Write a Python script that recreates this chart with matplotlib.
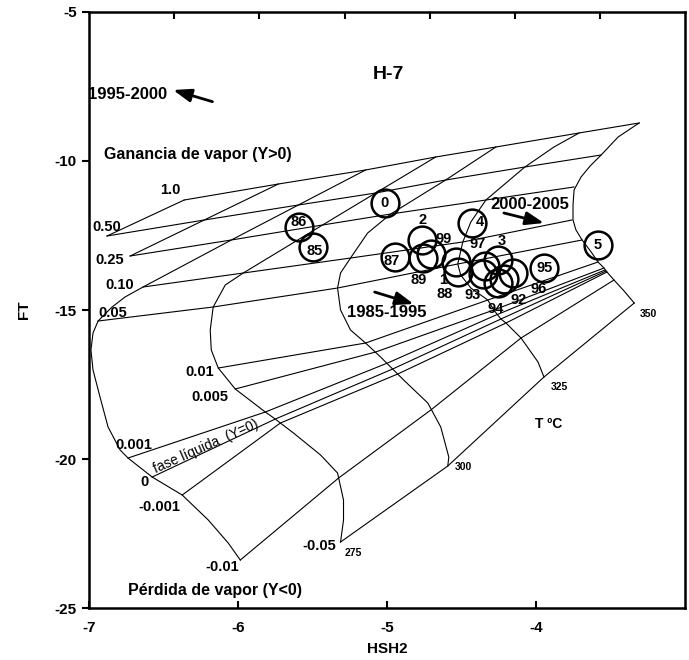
import numpy as np
import matplotlib
matplotlib.use("Agg")
import matplotlib.pyplot as plt

plt.rcParams['font.family'] = ['Liberation Sans', 'DejaVu Sans']
plt.rcParams['font.weight'] = 'bold'

# ---------------- data ----------------
T_values = [200, 225, 250, 275, 300, 325, 350]
Y_values = [1.0, 0.5, 0.25, 0.10, 0.05, 0.01, 0.005, 0.001, 0.0, -0.001, -0.01, -0.05]
Y_text = ["1.0", "0.50", "0.25", "0.10", "0.05", "0.01", "0.005", "0.001", "0", "-0.001", "-0.01", "-0.05"]
nan = np.nan
# grid nodes (HSH2, FT) of each Y line, one value per temperature in T_values
node_hsh = {
    1.0:    [-6.363, -5.730, -5.145, -4.674, -4.270, -3.711, -3.308],
    0.5:    [-6.881, -6.228, -5.596, -5.077, -4.607, -4.075, -3.563],
    0.25:   [nan, -6.726, -6.046, -5.434, -4.976, -4.337, -3.745],
    0.10:   [nan, nan, -6.639, -5.966, -5.246, -4.492, -3.759],
    0.05:   [nan, nan, -6.941, -6.168, -5.333, -4.526, -3.691],
    0.01:   [nan, nan, nan, -6.134, -5.145, -4.324, -3.584],
    0.005:  [nan, nan, nan, -6.020, -5.077, -4.284, -3.544],
    0.001:  [nan, nan, -6.740, -5.818, -4.997, -4.284, -3.537],
    0.0:    [nan, nan, -6.578, -5.751, -4.963, -4.236, -3.530],
    -0.001: [nan, nan, -6.376, -5.717, -4.929, -4.202, -3.524],
    -0.01:  [nan, nan, -5.986, -5.326, -4.707, -4.101, -3.477],
    -0.05:  [nan, nan, nan, -5.313, -4.593, -3.947, -3.341],
}
node_ft = {
    1.0:    [-11.313, -10.776, -10.307, -9.871, -9.536, -9.066, -8.731],
    0.5:    [-12.519, -11.983, -11.480, -11.078, -10.642, -10.206, -9.804],
    0.25:   [nan, -13.190, -12.653, -12.151, -11.782, -11.313, -10.876],
    0.10:   [nan, nan, -14.229, -13.760, -13.258, -12.720, -11.983],
    0.05:   [nan, nan, -15.369, -14.899, -14.263, -13.458, -12.653],
    0.01:   [nan, nan, nan, -16.945, -16.107, -14.665, -13.391],
    0.005:  [nan, nan, nan, -17.648, -16.408, -15.000, -13.592],
    0.001:  [nan, nan, -19.962, -18.420, -16.777, -15.201, -13.659],
    0.0:    [nan, nan, -20.599, -18.655, -16.978, -15.302, -13.693],
    -0.001: [nan, nan, -21.202, -18.789, -17.146, -15.436, -13.726],
    -0.01:  [nan, nan, -23.381, -20.632, -18.353, -15.939, -13.995],
    -0.05:  [nan, nan, nan, -22.778, -20.230, -17.246, -14.766],
}
# traced isotherm curves (HSH2, FT)
iso_hsh = {
    200: [-6.363, -6.881],
    225: [-5.730, -6.228, -6.726],
    250: [-5.145, -5.596, -6.046, -6.639, -6.760, -6.847, -6.941, -6.975, -6.989, -6.975,
          -6.928, -6.874, -6.793, -6.740, -6.578, -6.376, -6.201, -6.067, -5.986],
    275: [-4.674, -5.077, -5.434, -5.966, -6.087, -6.168, -6.188, -6.181, -6.134, -6.020,
          -5.818, -5.751, -5.717, -5.629, -5.447, -5.333, -5.293, -5.293, -5.313],
    300: [-4.270, -4.607, -4.976, -5.131, -5.246, -5.313, -5.333, -5.313, -5.246, -5.145,
          -5.044, -4.889, -4.727, -4.640, -4.586, -4.593],
    325: [-3.711, -3.880, -4.075, -4.337, -4.438, -4.492, -4.526, -4.506, -4.438, -4.324,
          -4.284, -4.236, -4.202, -4.101, -3.987, -3.947],
    350: [-3.308, -3.449, -3.563, -3.637, -3.698, -3.745, -3.752, -3.752, -3.732, -3.691,
          -3.630, -3.584, -3.544, -3.530, -3.477, -3.409, -3.341],
}
iso_ft = {
    200: [-11.313, -12.519],
    225: [-10.776, -11.983, -13.190],
    250: [-10.307, -11.480, -12.653, -14.229, -14.564, -14.899, -15.369, -15.771, -16.341, -17.011,
          -17.917, -18.922, -19.693, -19.962, -20.599, -21.202, -22.040, -22.811, -23.381],
    275: [-9.871, -11.078, -12.151, -13.760, -14.162, -14.899, -15.671, -16.341, -16.945, -17.648,
          -18.420, -18.655, -18.789, -19.123, -19.861, -20.465, -21.370, -22.040, -22.778],
    300: [-9.536, -10.642, -11.782, -12.419, -13.258, -13.760, -14.263, -15.000, -15.671, -16.107,
          -16.576, -17.347, -18.118, -18.922, -19.929, -20.230],
    325: [-9.066, -9.536, -10.206, -11.313, -12.050, -12.720, -13.458, -13.827, -14.263, -14.665,
          -15.000, -15.302, -15.436, -15.939, -16.744, -17.246],
    350: [-8.731, -9.200, -9.804, -10.173, -10.541, -10.977, -11.480, -11.983, -12.318, -12.653,
          -13.056, -13.391, -13.592, -13.693, -13.995, -14.363, -14.766],
}
T_label_text = ["275", "300", "325", "350"]

# sampled wells
well_labels = ["85", "86", "87", "0", "2", "99", "89", "1", "88", "97", "93", "3",
               "94", "92", "96", "4", "95", "5"]
well_hsh = [-5.497, -5.589, -4.950, -5.017, -4.768, -4.707, -4.761, -4.539, -4.526, -4.344,
            -4.357, -4.256, -4.256, -4.155, -4.216, -4.428, -3.945, -3.585]
well_ft = [-12.88, -12.21, -13.22, -11.42, -12.65, -13.12, -13.26, -13.39, -13.73, -13.52,
           -13.79, -13.32, -14.09, -13.76, -13.96, -12.07, -13.58, -12.82]
# label anchor positions
label_hsh = [-5.488, -5.596, -4.970, -5.017, -4.765, -4.620, -4.788, -4.627, -4.613, -4.391,
             -4.425, -4.230, -4.270, -4.115, -3.981, -4.377, -3.945, -3.585]
label_ft = [-13.02, -12.05, -13.36, -11.42, -11.98, -12.62, -14.00, -14.00, -14.46, -12.79,
            -14.50, -12.69, -14.97, -14.67, -14.30, -12.05, -13.58, -12.82]

# axis ticks
x_ticks = [-7, -6, -5, -4]
y_ticks = [-25, -20, -15, -10, -5]
top_ticks = list(np.linspace(-7, -3, 8)[1:-1])

# ---------------- figure ----------------
fig = plt.figure(figsize=(6.89, 6.60), dpi=100)
ax = fig.add_axes([0.1296, 0.0783, 0.8646, 0.904])
ax.set_xlim(-7, -3)
ax.set_ylim(-25, -5)

lw_grid = 0.8
for Y in Y_values:
    ax.plot(node_hsh[Y], node_ft[Y], color='black', lw=lw_grid)
for T in T_values:
    ax.plot(iso_hsh[T], iso_ft[T], color='black', lw=lw_grid)

# Y labels at left end of each line
y_lab_pos = {
    1.0: (-6.457, -10.977), 0.5: (-6.881, -12.218), 0.25: (-6.861, -13.324),
    0.10: (-6.793, -14.162), 0.05: (-6.841, -15.101), 0.01: (-6.262, -17.078),
    0.005: (-6.188, -17.917), 0.001: (-6.699, -19.525), 0.0: (-6.632, -20.765),
    -0.001: (-6.531, -21.604), -0.01: (-6.107, -23.615), -0.05: (-5.454, -22.911),
}
for Y, txt in zip(Y_values, Y_text):
    px, py = y_lab_pos[Y]
    ax.text(px, py, txt, fontsize=10.5, fontweight='bold', ha='center', va='center')

T_lab_pos = [(-5.225, -23.146), (-4.485, -20.264), (-3.846, -17.581), (-3.247, -15.134)]
for txt, (px, py) in zip(T_label_text, T_lab_pos):
    ax.text(px, py, txt, fontsize=7.5, fontweight='bold', ha='center', va='center')

ax.text(-6.215, -19.56, "fase líquida  (Y=0)", fontsize=10, rotation=24,
        ha='center', va='center', fontweight='normal')

# wells
ax.plot(well_hsh, well_ft, linestyle='none', marker='o', ms=20, mfc='none',
        mec='black', mew=1.8)
for lab, lx, ly in zip(well_labels, label_hsh, label_ft):
    ax.text(lx, ly, lab, fontsize=10.5, fontweight='bold', ha='center', va='center')

# titles / annotations
ax.text(-4.99, -7.12, "H-7", fontsize=14, fontweight='bold', ha='center', va='center')
ax.text(-6.74, -7.76, "1995-2000", fontsize=12, fontweight='bold', ha='center', va='center')
ax.text(-6.274, -9.804, "Ganancia de vapor (Y>0)", fontsize=11.5, fontweight='bold',
        ha='center', va='center')
ax.text(-6.154, -24.419, "Pérdida de vapor (Y<0)", fontsize=11.5, fontweight='bold',
        ha='center', va='center')
ax.text(-4.041, -11.48, "2000-2005", fontsize=12, fontweight='bold', ha='center', va='center')
ax.text(-5.003, -15.067, "1985-1995", fontsize=12, fontweight='bold', ha='center', va='center')
ax.text(-3.913, -18.822, "T ºC", fontsize=10, fontweight='bold', ha='center', va='center')

arrows = [((-6.173, -8.017), (-6.437, -7.625)),
          ((-4.216, -11.748), (-3.947, -12.084)),
          ((-5.084, -14.397), (-4.822, -14.799))]
for tail, head in arrows:
    ax.annotate("", xy=head, xytext=tail,
                arrowprops=dict(arrowstyle='-|>,head_length=1.1,head_width=0.4',
                                color='black', lw=2, shrinkA=0, shrinkB=0))

# axes style
ax.set_xticks(x_ticks)
ax.set_yticks(y_ticks)
ax.set_xticks(top_ticks, minor=True)
ax.set_xticklabels([str(v) for v in x_ticks], fontsize=11, fontweight='bold')
ax.set_yticklabels([str(v) for v in y_ticks], fontsize=11, fontweight='bold')
ax.tick_params(axis='x', which='major', direction='in', length=5, width=1.5, pad=9,
               bottom=True, top=False)
ax.tick_params(axis='x', which='minor', direction='in', length=5, width=1.5,
               bottom=False, top=True)
ax.tick_params(axis='y', direction='out', length=5, width=1.5, pad=4)
for s in ax.spines.values():
    s.set_linewidth(1.8)
ax.set_xlabel("HSH2", fontsize=11, fontweight='bold', labelpad=5)
ax.set_ylabel("FT", fontsize=11, fontweight='bold', labelpad=17)

fig.savefig("out.png", dpi=100)
